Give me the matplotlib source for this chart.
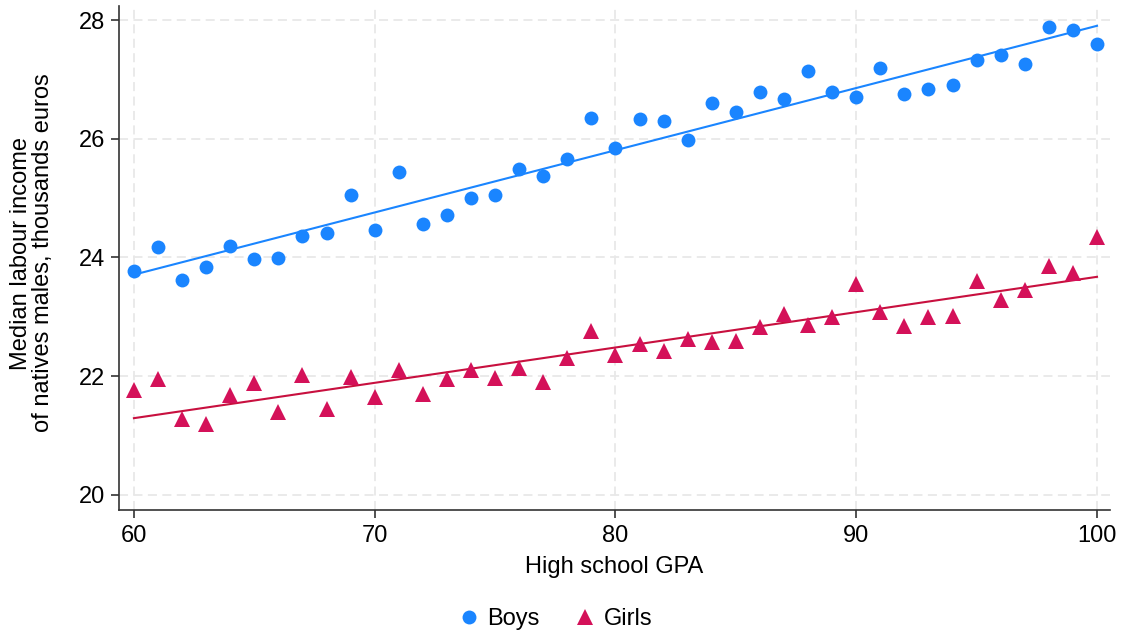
import numpy as np
import matplotlib
matplotlib.use("Agg")
import matplotlib.pyplot as plt
from matplotlib.lines import Line2D

plt.rcParams["font.family"] = ["Liberation Sans", "DejaVu Sans"]

# High school GPA bins
gpa = list(range(60, 101))

# Median labour income (thousands of euros) by GPA
boys = [23.77, 24.18, 23.62, 23.84, 24.19, 23.97, 23.99, 24.36, 24.41, 25.05,
        24.46, 25.44, 24.56, 24.72, 25.00, 25.05, 25.49, 25.37, 25.66, 26.35,
        25.84, 26.33, 26.30, 25.98, 26.60, 26.45, 26.79, 26.67, 27.14, 26.79,
        26.70, 27.19, 26.75, 26.84, 26.91, 27.33, 27.41, 27.26, 27.88, 27.83,
        27.60]
girls = [21.77, 21.95, 21.28, 21.20, 21.68, 21.88, 21.40, 22.02, 21.44, 21.99,
         21.65, 22.11, 21.70, 21.95, 22.11, 21.97, 22.14, 21.91, 22.30, 22.76,
         22.35, 22.54, 22.43, 22.63, 22.57, 22.59, 22.83, 23.04, 22.86, 23.00,
         23.55, 23.08, 22.85, 22.99, 23.02, 23.61, 23.29, 23.46, 23.86, 23.74,
         24.35]

xticks = [60, 70, 80, 90, 100]
yticks = [20, 22, 24, 26, 28]

BLUE = "#1A85FF"
RED = "#D41159"
LINE_RED = "#C8103F"
FS = 17

fig = plt.figure(figsize=(11.22, 6.34), dpi=100)
ax = fig.add_axes([119 / 1122, 1 - 510 / 634, (1110 - 119) / 1122, (510 - 6) / 634])

x = np.array(gpa, dtype=float)
xs = np.array([x.min(), x.max()])

# Linear fits
bb = np.polyfit(x, np.array(boys), 1)
gb = np.polyfit(x, np.array(girls), 1)
ax.plot(xs, np.polyval(bb, xs), color=BLUE, lw=1.5, zorder=3)
ax.plot(xs, np.polyval(gb, xs), color=LINE_RED, lw=1.5, zorder=3)

ax.plot(x, boys, "o", color=BLUE, ms=10, mew=0, zorder=4)
ax.plot(x, girls, "^", color=RED, ms=11, mew=0, zorder=4)

ax.set_xlim(59.38, 100.54)
ax.set_ylim(19.747, 28.236)
ax.set_xticks(xticks)
ax.set_yticks(yticks)
ax.grid(True, color="#e8e8e8", linestyle=(0, (5, 3)), linewidth=1.3, zorder=0)
ax.set_axisbelow(True)

for s in ["top", "right"]:
    ax.spines[s].set_visible(False)
for s in ["left", "bottom"]:
    ax.spines[s].set_color("#333333")
    ax.spines[s].set_linewidth(1.2)
ax.tick_params(axis="both", direction="out", length=6, width=1.2,
               color="#333333", labelsize=FS, labelcolor="black")
ax.tick_params(axis="y", pad=4)
ax.tick_params(axis="x", pad=5)

fig.text(614.5 / 1122, 1 - 567 / 634, "High school GPA", ha="center", va="center",
         fontsize=FS)
fig.text(32 / 1122, 1 - 253 / 634,
         "Median labour income\nof natives males, thousands euros",
         ha="center", va="center", rotation=90, fontsize=FS,
         multialignment="center", linespacing=1.0)

handles = [
    Line2D([], [], marker="o", color=BLUE, ls="none", ms=10, mew=0),
    Line2D([], [], marker="^", color=RED, ls="none", ms=11, mew=0),
]
fig.legend(handles, ["Boys", "Girls"], loc="center", ncol=2,
           bbox_to_anchor=(557 / 1122, 1 - 619 / 634), frameon=False,
           fontsize=FS, handlelength=0.6, handletextpad=0.5,
           columnspacing=1.6)

fig.savefig("out.png", dpi=100)
